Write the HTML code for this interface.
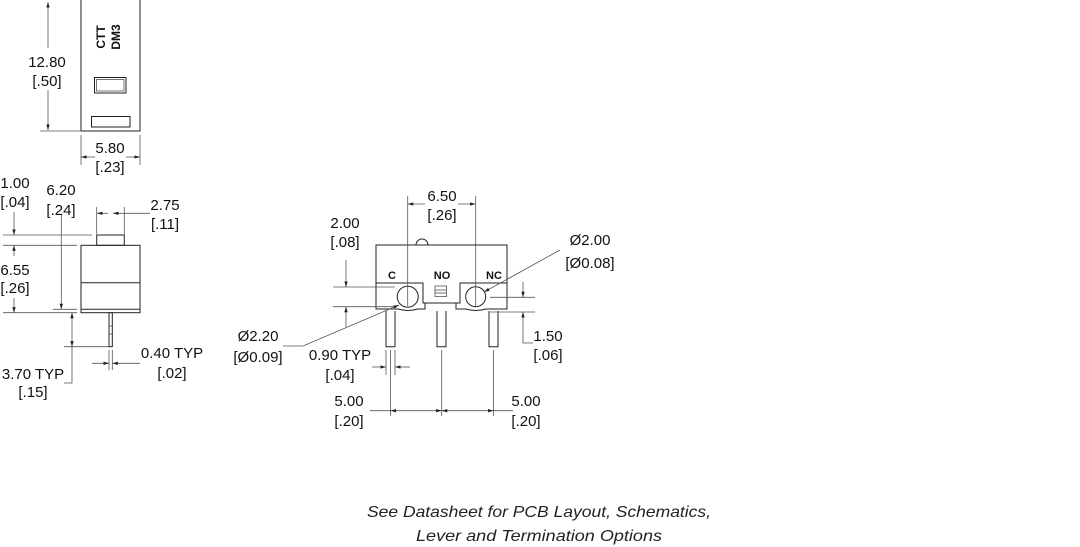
<!DOCTYPE html>
<html><head><meta charset="utf-8"><style>
html,body{margin:0;padding:0;background:#fff;}
svg{display:block;}
.t{font-family:"Liberation Sans",sans-serif;font-size:15px;fill:#111;text-anchor:middle;}
.l{stroke:#222;stroke-width:1;fill:none;}
.th{stroke:#555;stroke-width:0.8;fill:none;}
.f{font-family:"Liberation Sans",sans-serif;font-style:italic;font-size:16px;fill:#222;text-anchor:middle;}
.b{font-family:"Liberation Sans",sans-serif;font-weight:bold;font-size:11px;fill:#111;text-anchor:middle;}
</style></head><body>
<svg width="1080" height="547" viewBox="0 0 1080 547" xmlns="http://www.w3.org/2000/svg">
<defs>
<marker id="a" viewBox="0 0 10 10" refX="10" refY="5" markerWidth="7" markerHeight="7" orient="auto-start-reverse"><path d="M0,2 L10,5 L0,8 z" fill="#222"/></marker>
</defs>

<!-- Top view -->
<rect x="81" y="-1" width="59" height="132" class="l"/>
<text class="t" font-size="12" transform="translate(105,37) rotate(-90)" font-weight="bold" style="font-size:12px">CTT</text>
<text class="t" transform="translate(120,37) rotate(-90)" style="font-size:12px;font-weight:bold">DM3</text>
<rect x="94.5" y="77.5" width="31.5" height="15.5" class="l"/>
<rect x="96.5" y="79.5" width="27.5" height="11.5" class="th"/>
<rect x="91.5" y="116.5" width="38.5" height="10.5" class="l"/>
<line x1="48" y1="2" x2="48" y2="48" class="th" marker-start="url(#a)"/>
<line x1="48" y1="90" x2="48" y2="130" class="th" marker-end="url(#a)"/>
<line x1="40" y1="131" x2="81" y2="131" class="th"/>
<text class="t" x="47" y="67">12.80</text>
<text class="t" x="47" y="86">[.50]</text>
<line x1="81" y1="135" x2="81" y2="165" class="th"/>
<line x1="140" y1="135" x2="140" y2="165" class="th"/>
<line x1="81" y1="157" x2="95" y2="157" class="th" marker-start="url(#a)"/>
<line x1="126" y1="157" x2="140" y2="157" class="th" marker-end="url(#a)"/>
<text class="t" x="110" y="153">5.80</text>
<text class="t" x="110" y="172">[.23]</text>

<!-- Side view -->
<rect x="96.7" y="235" width="27.6" height="10.3" class="l"/>
<rect x="81" y="245.3" width="59" height="67.4" class="l"/>
<line x1="81" y1="282.7" x2="140" y2="282.7" class="l"/>
<line x1="81" y1="309.3" x2="140" y2="309.3" class="l"/>
<rect x="109" y="312.7" width="3.3" height="34" class="l"/>
<line x1="109" y1="326" x2="112.3" y2="326" class="th"/>
<line x1="109" y1="334" x2="112.3" y2="334" class="th"/>
<line x1="96.7" y1="207" x2="96.7" y2="234" class="th"/>
<line x1="124.3" y1="207" x2="124.3" y2="234" class="th"/>
<line x1="97" y1="213.3" x2="108" y2="213.3" class="th" marker-start="url(#a)"/>
<line x1="113" y1="213.3" x2="150" y2="213.3" class="th" marker-start="url(#a)"/>
<text class="t" x="165" y="210">2.75</text>
<text class="t" x="165" y="229">[.11]</text>
<line x1="3" y1="235" x2="92" y2="235" class="th"/>
<line x1="3" y1="245.3" x2="77" y2="245.3" class="th"/>
<line x1="3" y1="312.7" x2="77" y2="312.7" class="th"/>
<line x1="53" y1="309.3" x2="77" y2="309.3" class="th"/>
<line x1="14" y1="212" x2="14" y2="235" class="th" marker-end="url(#a)"/>
<line x1="14" y1="256" x2="14" y2="245.3" class="th" marker-end="url(#a)"/>
<line x1="14" y1="298" x2="14" y2="312.7" class="th" marker-end="url(#a)"/>
<text class="t" x="15" y="188">1.00</text>
<text class="t" x="15" y="207">[.04]</text>
<text class="t" x="15" y="275">6.55</text>
<text class="t" x="15" y="293">[.26]</text>
<line x1="61.3" y1="215" x2="61.3" y2="309.3" class="th" marker-end="url(#a)"/>
<text class="t" x="61" y="195">6.20</text>
<text class="t" x="61" y="215">[.24]</text>
<line x1="72" y1="328" x2="72" y2="312.7" class="th" marker-end="url(#a)"/>
<line x1="72" y1="328" x2="72" y2="346.7" class="th" marker-end="url(#a)"/>
<polyline points="72,346.7 72,383 64,383" class="th"/>
<line x1="64" y1="346.7" x2="109" y2="346.7" class="th"/>
<text class="t" x="33" y="379">3.70 TYP</text>
<text class="t" x="33" y="397">[.15]</text>
<line x1="109" y1="350" x2="109" y2="370" class="th"/>
<line x1="112.3" y1="350" x2="112.3" y2="370" class="th"/>
<line x1="92" y1="363.3" x2="109" y2="363.3" class="th" marker-end="url(#a)"/>
<line x1="140" y1="363.3" x2="112.3" y2="363.3" class="th" marker-end="url(#a)"/>
<text class="t" x="172" y="358">0.40 TYP</text>
<text class="t" x="172" y="378">[.02]</text>

<!-- Front view -->
<path d="M416,245 A6,6 0 0 1 428,245" class="l"/>
<path d="M376,245 H507 V309 H486 Q476,312 466,309 H456 V303 H425 V309 H418 Q408,312 398,309 H376 Z" class="l"/>
<polyline points="376,283 423,283 423,303 460,303 460,283 507,283" class="l"/>
<circle cx="407.7" cy="296.7" r="10.5" class="l"/>
<circle cx="475.7" cy="296.7" r="10" class="l"/>
<rect x="435" y="286" width="11.5" height="10.5" class="th"/>
<line x1="435" y1="290" x2="446.5" y2="290" class="th"/>
<line x1="435" y1="293" x2="446.5" y2="293" class="th"/>
<text class="b" x="392" y="279">C</text>
<text class="b" x="442" y="279">NO</text>
<text class="b" x="494" y="279">NC</text>
<!-- pins -->
<path d="M386,311 V346.7 H395 V311" class="l"/>
<path d="M437,311 V346.7 H446 V311" class="l"/>
<path d="M489,311 V346.7 H498 V311" class="l"/>
<!-- 6.50 -->
<line x1="407.7" y1="196" x2="407.7" y2="306" class="th"/>
<line x1="475.7" y1="196" x2="475.7" y2="306" class="th"/>
<line x1="425" y1="204" x2="407.7" y2="204" class="th" marker-end="url(#a)"/>
<line x1="458" y1="204" x2="475.7" y2="204" class="th" marker-end="url(#a)"/>
<text class="t" x="442" y="201">6.50</text>
<text class="t" x="442" y="220">[.26]</text>
<!-- 2.00 -->
<line x1="333" y1="287" x2="395" y2="287" class="th"/>
<line x1="333" y1="306.7" x2="395" y2="306.7" class="th"/>
<line x1="346" y1="260" x2="346" y2="287" class="th" marker-end="url(#a)"/>
<line x1="346" y1="327" x2="346" y2="306.7" class="th" marker-end="url(#a)"/>
<text class="t" x="345" y="228">2.00</text>
<text class="t" x="345" y="247">[.08]</text>
<!-- Ø2.00 -->
<line x1="560" y1="250" x2="484" y2="292" class="th" marker-end="url(#a)"/>
<text class="t" x="590" y="245">Ø2.00</text>
<text class="t" x="590" y="268">[Ø0.08]</text>
<!-- 1.50 -->
<line x1="490" y1="297.3" x2="535" y2="297.3" class="th"/>
<line x1="490" y1="312" x2="535" y2="312" class="th"/>
<line x1="523" y1="282" x2="523" y2="297.3" class="th" marker-end="url(#a)"/>
<line x1="523" y1="331" x2="523" y2="312" class="th" marker-end="url(#a)"/>
<polyline points="523,331 523,343 533,343" class="th"/>
<text class="t" x="548" y="341">1.50</text>
<text class="t" x="548" y="360">[.06]</text>
<!-- Ø2.20 -->
<polyline points="283,346 303,346 399,305" class="th" marker-end="url(#a)"/>
<text class="t" x="258" y="341">Ø2.20</text>
<text class="t" x="258" y="362">[Ø0.09]</text>
<!-- 0.90 -->
<line x1="386" y1="350" x2="386" y2="375" class="th"/>
<line x1="395" y1="350" x2="395" y2="375" class="th"/>
<line x1="372" y1="367" x2="386" y2="367" class="th" marker-end="url(#a)"/>
<line x1="410" y1="367" x2="395" y2="367" class="th" marker-end="url(#a)"/>
<text class="t" x="340" y="360">0.90 TYP</text>
<text class="t" x="340" y="380">[.04]</text>
<!-- 5.00 -->
<line x1="390.5" y1="350" x2="390.5" y2="416" class="th"/>
<line x1="441.7" y1="350" x2="441.7" y2="416" class="th"/>
<line x1="493.5" y1="350" x2="493.5" y2="416" class="th"/>
<line x1="370" y1="410.7" x2="390.5" y2="410.7" class="th"/>
<line x1="493.5" y1="410.7" x2="513" y2="410.7" class="th"/>
<line x1="416" y1="410.7" x2="390.5" y2="410.7" class="th" marker-end="url(#a)"/>
<line x1="416" y1="410.7" x2="441.7" y2="410.7" class="th" marker-end="url(#a)"/>
<line x1="467" y1="410.7" x2="441.7" y2="410.7" class="th" marker-end="url(#a)"/>
<line x1="467" y1="410.7" x2="493.5" y2="410.7" class="th" marker-end="url(#a)"/>
<text class="t" x="349" y="406">5.00</text>
<text class="t" x="349" y="426">[.20]</text>
<text class="t" x="526" y="406">5.00</text>
<text class="t" x="526" y="426">[.20]</text>

<text class="f" x="539" y="517" textLength="344" lengthAdjust="spacingAndGlyphs">See Datasheet for PCB Layout, Schematics,</text>
<text class="f" x="539" y="541" textLength="246" lengthAdjust="spacingAndGlyphs">Lever and Termination Options</text>
</svg>
</body></html>
